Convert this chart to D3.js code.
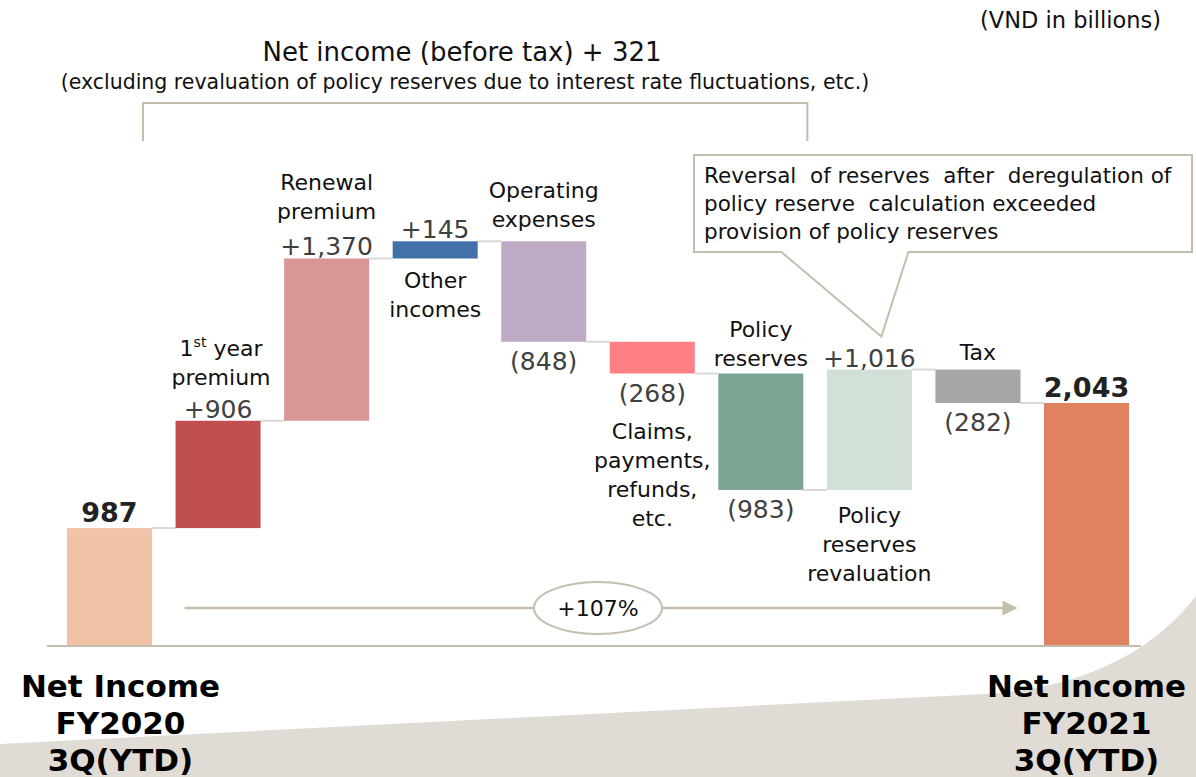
<!DOCTYPE html>
<html>
<head>
<meta charset="utf-8">
<script src="https://cdn.jsdelivr.net/npm/d3@7"></script>
<style>
  html, body { margin: 0; padding: 0; background: #fff; }
  svg { display: block; }
  .label { font-family: "DejaVu Sans", sans-serif; font-size: 22px; fill: #111; }
  .value { font-family: "DejaVu Sans", sans-serif; font-size: 25px; fill: #404040; }
  .total-value { font-family: "DejaVu Sans", sans-serif; font-size: 27px; font-weight: bold; fill: #222; }
  .axis-label { font-family: "DejaVu Sans", sans-serif; font-size: 31px; font-weight: bold; fill: #000; }
  .note { font-family: "DejaVu Sans", sans-serif; fill: #111; }
</style>
</head>
<body>
<div id="chart"></div>
<script>
// (VND in billions)
const categories = [
  "Net Income FY2020 3Q(YTD)", "1st year premium", "Renewal premium", "Other incomes",
  "Operating expenses", "Claims, payments, refunds, etc.", "Policy reserves",
  "Policy reserves revaluation", "Tax", "Net Income FY2021 3Q(YTD)"
]
const values = [987, 906, 1370, 145, -848, -268, -983, 1016, -282, 2043]
const isTotal = [true, false, false, false, false, false, false, false, false, true]
const colors = ["#f0c3a8", "#c0504d", "#d99694", "#4270a8", "#bfaac5", "#ff7f83", "#7ba591", "#d2e0d8", "#a6a6a6", "#e0825f"]

// text lines of each category label, and of the bottom axis labels
const labelLines = [
  [], ["1st year", "premium"], ["Renewal", "premium"], ["Other", "incomes"],
  ["Operating", "expenses"], ["Claims,", "payments,", "refunds,", "etc."], ["Policy", "reserves"],
  ["Policy", "reserves", "revaluation"], ["Tax"], []
]
const axisLines = [["Net Income", "FY2020", "3Q(YTD)"], ["Net Income", "FY2021", "3Q(YTD)"]]

const titleText = "Net income (before tax) + 321"
const subtitleText = "(excluding revaluation of policy reserves due to interest rate fluctuations, etc.)"
const unitText = "(VND in billions)"
const calloutLines = ["Reversal  of reserves  after  deregulation of", "policy reserve  calculation exceeded", "provision of policy reserves"]
const growthText = "+107%"

const width = 1196, height = 777
const lineColor = "#c6bead"

// running start / end of each bar
let running = 0
const data = values.map((v, i) => {
  let start, end
  if (isTotal[i]) { start = 0; end = v; running = v }
  else { start = running; end = running + v; running = end }
  return { name: categories[i], value: v, start, end, total: isTotal[i], color: colors[i], lines: labelLines[i] }
})

const x = d3.scaleBand()
  .domain(categories)
  .range([67, 1129])
  .paddingInner(0.217)
  .paddingOuter(0)

const y = d3.scaleLinear()
  .domain([0, 2043])
  .range([645, 403])

const fmt = d3.format(",")
const valueText = d => d.total ? fmt(d.value) : (d.value >= 0 ? "+" + fmt(d.value) : "(" + fmt(-d.value) + ")")

const svg = d3.select("#chart").append("svg")
  .attr("width", width)
  .attr("height", height)
  .attr("viewBox", [0, 0, width, height])

// beige background sweep at the bottom
svg.append("path")
  .attr("d", "M0,744 L985,694 C1080,688 1150,655 1196,596 L1196,777 L0,777 Z")
  .attr("fill", "#e0dcd5")

// unit
svg.append("text")
  .attr("class", "note")
  .attr("x", 1161).attr("y", 28)
  .attr("text-anchor", "end")
  .style("font-size", "22.5px")
  .text(unitText)

// title and bracket
svg.append("text")
  .attr("class", "note")
  .attr("x", 462).attr("y", 61)
  .attr("text-anchor", "middle")
  .style("font-size", "26px")
  .text(titleText)

svg.append("text")
  .attr("class", "note")
  .attr("x", 465).attr("y", 89)
  .attr("text-anchor", "middle")
  .style("font-size", "20.5px")
  .text(subtitleText)

const bx0 = x(categories[0]) + x.bandwidth() - 9
const bx1 = x(categories[6]) + x.bandwidth() + 4
svg.append("path")
  .attr("d", `M${bx0},141 V103 H${bx1} V141`)
  .attr("fill", "none")
  .attr("stroke", lineColor)
  .attr("stroke-width", 2)

// baseline
svg.append("line")
  .attr("x1", 47).attr("x2", 1141)
  .attr("y1", y(0) + 1).attr("y2", y(0) + 1)
  .attr("stroke", lineColor)
  .attr("stroke-width", 2)

// connectors between bars
svg.append("g")
  .selectAll("line")
  .data(data.slice(0, -1))
  .join("line")
  .attr("x1", d => x(d.name) + x.bandwidth())
  .attr("x2", (d, i) => x(categories[i + 1]))
  .attr("y1", d => y(d.end))
  .attr("y2", d => y(d.end))
  .attr("stroke", "#d9d9d9")
  .attr("stroke-width", 2)

// bars
svg.append("g")
  .selectAll("rect")
  .data(data)
  .join("rect")
  .attr("x", d => x(d.name))
  .attr("width", x.bandwidth())
  .attr("y", d => y(Math.max(d.start, d.end)))
  .attr("height", d => Math.abs(y(d.start) - y(d.end)))
  .attr("fill", d => d.color)

// value labels
const cx = d => x(d.name) + x.bandwidth() / 2
const topY = d => y(Math.max(d.start, d.end))
const bottomY = d => y(Math.min(d.start, d.end))
const valueY = d => d.total ? topY(d) - 6 : (d.value >= 0 ? topY(d) - 3 : bottomY(d) + 28)

svg.append("g")
  .selectAll("text")
  .data(data)
  .join("text")
  .attr("class", d => d.total ? "total-value" : "value")
  .attr("x", cx)
  .attr("y", valueY)
  .attr("text-anchor", "middle")
  .text(valueText)

// category labels: first baseline relative to the bar
const lineH = 29
const labelPlace = [
  null,
  d => valueY(d) - 33 - lineH,
  d => valueY(d) - 36 - lineH,
  d => bottomY(d) + 30,
  d => topY(d) - 14 - lineH,
  d => valueY(d) + 37,
  d => topY(d) - 8 - lineH,
  d => bottomY(d) + 33,
  d => topY(d) - 10,
  null
]

data.forEach((d, i) => {
  if (!d.lines.length) return
  const t = svg.append("text")
    .attr("class", "label")
    .attr("text-anchor", "middle")
    .attr("y", labelPlace[i](d))
  d.lines.forEach((line, j) => {
    const ts = t.append("tspan")
      .attr("x", cx(d) + (i === 1 ? 3 : 0))
      .attr("dy", j === 0 ? 0 : lineH)
    if (line === "1st year") {
      ts.append("tspan").text("1")
      ts.append("tspan").attr("dy", -9).style("font-size", "14px").text("st")
      ts.append("tspan").attr("dy", 9).text(" year")
    } else {
      ts.text(line)
    }
  })
})

// bottom axis labels
const ends = [data[0], data[data.length - 1]]
ends.forEach((d, k) => {
  const t = svg.append("text")
    .attr("class", "axis-label")
    .attr("text-anchor", "middle")
    .attr("y", 697)
  axisLines[k].forEach((line, j) => {
    t.append("tspan")
      .attr("x", cx(d) + (k === 0 ? 11 : 0))
      .attr("dy", j === 0 ? 0 : 37)
      .text(line)
  })
})

// growth arrow with ellipse
const arrowY = 608
const ax0 = x(categories[1]) + 9
const ax1 = x(categories[9]) - 28
svg.append("defs").append("marker")
  .attr("id", "arrow")
  .attr("viewBox", "0 0 10 10")
  .attr("refX", 9).attr("refY", 5)
  .attr("markerWidth", 7).attr("markerHeight", 6)
  .attr("markerUnits", "strokeWidth")
  .attr("orient", "auto")
  .append("path")
  .attr("d", "M0,0 L10,5 L0,10 Z")
  .attr("fill", lineColor)

svg.append("line")
  .attr("x1", ax0).attr("x2", ax1)
  .attr("y1", arrowY).attr("y2", arrowY)
  .attr("stroke", lineColor)
  .attr("stroke-width", 2.5)
  .attr("marker-end", "url(#arrow)")

const ex = (x(categories[4]) + x(categories[5]) + x.bandwidth()) / 2
svg.append("ellipse")
  .attr("cx", ex).attr("cy", arrowY)
  .attr("rx", 64).attr("ry", 26)
  .attr("fill", "#fff")
  .attr("stroke", lineColor)
  .attr("stroke-width", 2)

svg.append("text")
  .attr("class", "note")
  .attr("x", ex).attr("y", arrowY + 8)
  .attr("text-anchor", "middle")
  .style("font-size", "22px")
  .text(growthText)

// callout for policy reserves revaluation
const tipX = cx(data[7]) + 12
const tipY = topY(data[7]) - 33
svg.append("path")
  .attr("d", `M694,155 H1192 V252 H${tipX + 27} L${tipX},${tipY} L${tipX - 100},252 H694 Z`)
  .attr("fill", "#fff")
  .attr("stroke", lineColor)
  .attr("stroke-width", 2)

const callout = svg.append("text")
  .attr("class", "note")
  .attr("y", 183)
  .style("font-size", "21.5px")
  .style("white-space", "pre")
calloutLines.forEach((line, j) => {
  callout.append("tspan")
    .attr("x", 704)
    .attr("dy", j === 0 ? 0 : 28)
    .text(line)
})
</script>
</body>
</html>
